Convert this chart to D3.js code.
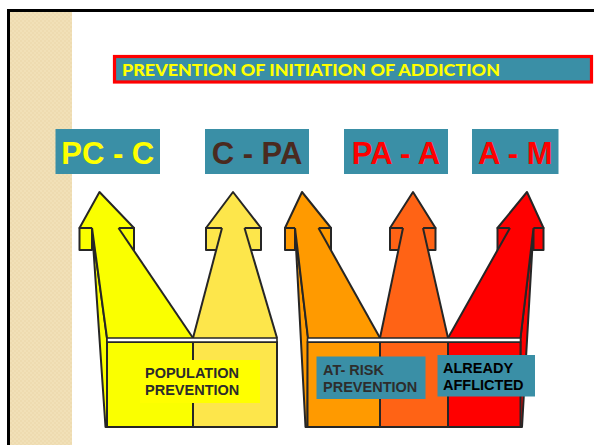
<!DOCTYPE html>
<html>
<head>
<meta charset="utf-8">
<script src="https://cdn.jsdelivr.net/npm/d3@7"></script>
<style>
  html, body { margin: 0; padding: 0; background: #fff; }
  svg { display: block; }
</style>
</head>
<body>
<div id="chart"></div>
<script>
// slide content
const title = "PREVENTION OF INITIATION OF ADDICTION";
const stages = ["PC - C", "C - PA", "PA - A", "A - M"];
const stageColors = ["#ffff00", "#4a2a1f", "#ff0000", "#ff0000"];
const arrowColors = ["#faff00", "#fde64b", "#ff9a00", "#ff6315", "#ff0000"];
const groupOfArrow = [0, 0, 1, 1, 1];
const captions = [["POPULATION", "PREVENTION"], ["AT- RISK", "PREVENTION"], ["ALREADY", "AFFLICTED"]];
const captionFill = ["#ffff00", "#3a8fa6", "#3a8fa6"];
const captionText = ["#2b2b2b", "#2d2d2d", "#000000"];

const W = 594, H = 445;
const teal = "#3a8fa6", ink = "#262626";

const svg = d3.select("#chart").append("svg")
  .attr("width", W).attr("height", H);

// background strip with a faint weave
const defs = svg.append("defs");
const pat = defs.append("pattern").attr("id", "weave")
  .attr("width", 4).attr("height", 4).attr("patternUnits", "userSpaceOnUse");
pat.append("rect").attr("width", 4).attr("height", 4).attr("fill", "#f1e0b7");
pat.append("rect").attr("width", 2).attr("height", 2).attr("fill", "#eedbb0");
pat.append("rect").attr("x", 2).attr("y", 2).attr("width", 2).attr("height", 2).attr("fill", "#eedbb0");

svg.append("rect").attr("x", 9).attr("y", 11).attr("width", 63).attr("height", H)
  .attr("fill", "url(#weave)");
svg.append("path").attr("d", `M8.5,${H + 5} V10.5 H${W + 5}`)
  .attr("fill", "none").attr("stroke", "#000").attr("stroke-width", 3);

// title bar
svg.append("rect").attr("x", 114.5).attr("y", 56.5).attr("width", 477).attr("height", 25.5)
  .attr("fill", teal).attr("stroke", "#ff0000").attr("stroke-width", 3.2);
svg.append("text").attr("x", 122).attr("y", 75.5)
  .attr("font-family", "Lato, 'Open Sans', sans-serif").attr("font-weight", 900)
  .attr("font-size", 17).attr("fill", "#ffff00")
  .attr("textLength", 378).attr("lengthAdjust", "spacingAndGlyphs")
  .text(title);

// stage labels
const stageX = d3.scaleOrdinal().domain(stages).range([55.5, 205, 344, 472]);
const stageW = d3.scaleOrdinal().domain(stages).range([104.5, 104, 104, 86.5]);
const stageG = svg.append("g").selectAll("g").data(stages).join("g");
stageG.append("rect")
  .attr("x", d => stageX(d)).attr("y", 129)
  .attr("width", d => stageW(d)).attr("height", 45)
  .attr("fill", teal);
stageG.append("text")
  .attr("x", d => stageX(d) + stageW(d) / 2).attr("y", 163.5)
  .attr("text-anchor", "middle")
  .attr("font-family", "'Liberation Sans', Arial, sans-serif").attr("font-weight", 700)
  .attr("font-size", 31)
  .attr("fill", (d, i) => stageColors[i])
  .text(d => d);

// arrow geometry (vertical levels)
const y = d3.scaleOrdinal()
  .domain(["tip", "head", "barb", "shaft", "box", "bottom"])
  .range([192, 228, 250, 338, 342, 427]);

const idx = d3.range(arrowColors.length);
const tipX = d3.scaleOrdinal().domain(idx).range([99.5, 233, 302, 413, 527]);
const headL = d3.scaleOrdinal().domain(idx).range([79.5, 206, 285, 390, 497.5]);
const headR = d3.scaleOrdinal().domain(idx).range([134, 261, 331, 435.5, 543.5]);
const innL = d3.scaleOrdinal().domain(idx).range([92, 222, 295, 403, 510]);
const innR = d3.scaleOrdinal().domain(idx).range([118.5, 244.5, 318.5, 423, 533.5]);
const baseL = d3.scaleOrdinal().domain(idx).range([107, 193, 308, 380, 448]);
const baseR = d3.scaleOrdinal().domain(idx).range([193, 277, 380, 448, 520.5]);

const poly = pts => "M" + pts.map(p => p.join(",")).join("L") + "Z";
const line = pts => "M" + pts.map(p => p.join(",")).join("L");

const arrows = svg.append("g")
  .attr("stroke", ink).attr("stroke-width", 2).attr("stroke-linejoin", "round");

// side faces (3D edge) drawn first
const sides = [
  { c: 0, pts: [[92, 228], [107, 338], [107, 427], [105.5, 427]] },
  { c: 2, pts: [[295, 228], [308, 338], [307.5, 427], [305.5, 427]] },
  { c: 4, pts: [[533.5, 228], [520.5, 338], [520, 427], [522, 427]] }
];
arrows.selectAll("path.side").data(sides).join("path").attr("class", "side")
  .attr("d", d => poly(d.pts))
  .attr("fill", d => arrowColors[d.c]);

// boxes
arrows.selectAll("rect.box").data(idx).join("rect").attr("class", "box")
  .attr("x", i => i === 2 ? 307.5 : baseL(i)).attr("y", y("box"))
  .attr("width", i => baseR(i) - (i === 2 ? 307.5 : baseL(i)))
  .attr("height", y("bottom") - y("box"))
  .attr("fill", i => arrowColors[i]);

idx.forEach(i => {
  const g = arrows.append("g");
  const col = arrowColors[i];
  // head
  g.append("path")
    .attr("d", poly([[headL(i), y("head")], [tipX(i), y("tip")], [headR(i), y("head")]]))
    .attr("fill", col);
  // barbs
  g.append("rect").attr("x", headL(i)).attr("y", y("head"))
    .attr("width", innL(i) - headL(i)).attr("height", y("barb") - y("head"))
    .attr("fill", col);
  g.append("rect").attr("x", innR(i)).attr("y", y("head"))
    .attr("width", headR(i) - innR(i)).attr("height", y("barb") - y("head"))
    .attr("fill", col);
  // shaft
  g.append("path")
    .attr("d", poly([[innL(i), y("head") - 1], [innR(i), y("head") - 1], [baseR(i), y("shaft")], [baseL(i), y("shaft")]]))
    .attr("fill", col).attr("stroke", "none");
  g.append("path").attr("d", line([[innL(i), y("head")], [baseL(i), y("shaft")]])).attr("fill", "none");
  g.append("path").attr("d", line([[innR(i), y("head")], [baseR(i), y("shaft")]])).attr("fill", "none");
});

// lids between shafts and boxes
const lids = [[107, 277], [307.5, 520.5]];
arrows.selectAll("rect.lid").data(lids).join("rect").attr("class", "lid")
  .attr("x", d => d[0]).attr("y", y("shaft"))
  .attr("width", d => d[1] - d[0]).attr("height", y("box") - y("shaft"))
  .attr("fill", "#fff").attr("stroke-width", 1.6);

// captions
const capBox = [[140, 360, 120, 43], [316.5, 356.5, 109, 42.5], [437.5, 355, 97.5, 41.5]];
const capText = [[145, 378.3], [323, 375], [443, 373.3]];
const capG = svg.append("g").selectAll("g").data(captions).join("g");
capG.append("rect")
  .attr("x", (d, i) => capBox[i][0]).attr("y", (d, i) => capBox[i][1])
  .attr("width", (d, i) => capBox[i][2]).attr("height", (d, i) => capBox[i][3])
  .attr("fill", (d, i) => captionFill[i]);
capG.each(function (d, i) {
  d3.select(this).selectAll("text").data(d).join("text")
    .attr("x", capText[i][0]).attr("y", (t, k) => capText[i][1] + k * 17)
    .attr("font-family", "'Liberation Sans', Arial, sans-serif").attr("font-weight", 700)
    .attr("font-size", 14.5).attr("fill", captionText[i])
    .text(t => t);
});
</script>
</body>
</html>
